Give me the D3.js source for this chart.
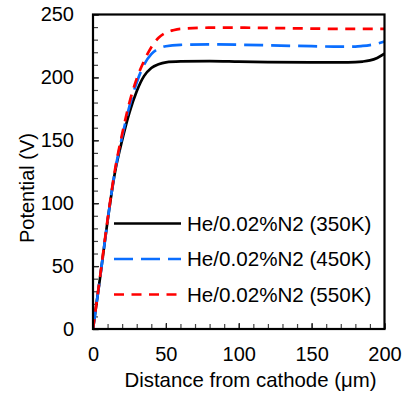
<!DOCTYPE html>
<html>
<head>
<meta charset="utf-8">
<script src="https://cdn.jsdelivr.net/npm/d3@7"></script>
<style>
  html, body { margin: 0; padding: 0; background: #fff; }
  svg text { font-family: "Liberation Sans", Arial, sans-serif; fill: #000; }
</style>
</head>
<body>
<svg id="chart" width="405" height="394"></svg>
<script>
// ---- data ----
const xTicks = [0, 50, 100, 150, 200];
const yTicks = [0, 50, 100, 150, 200, 250];

const x350 = [0, 5, 10, 15, 20, 25, 30, 35, 40, 45, 50, 60, 80, 100, 120, 150, 170, 180, 185, 190, 195, 200];
const v350 = [0, 42, 86, 124, 150, 172, 189, 201, 207.5, 210.5, 212, 212.7, 213, 212.6, 212.2, 212, 212, 212.2, 212.6, 213.5, 215.5, 218.8];

const x450 = [0, 5, 10, 15, 20, 25, 30, 35, 40, 45, 50, 60, 80, 100, 120, 150, 170, 180, 185, 190, 195, 200];
const v450 = [0, 42, 86, 125, 153, 177, 196, 210, 218.5, 222.8, 224.8, 225.9, 226.3, 226, 225.5, 224.8, 224.4, 224.5, 225, 225.7, 226.8, 228.6];

const x550 = [0, 5, 10, 15, 20, 25, 30, 35, 40, 45, 50, 55, 60, 80, 100, 120, 150, 180, 200];
const v550 = [0, 43, 87, 126, 155, 180, 199, 213, 224, 231.5, 235.5, 237.5, 238.6, 239.5, 239.5, 239.3, 238.8, 238.5, 238.5];

const seriesNames = ["He/0.02%N2 (350K)", "He/0.02%N2 (450K)", "He/0.02%N2 (550K)"];
const seriesColors = ["#000000", "#0a6eff", "#ff0000"];
const seriesDash = [null, "19,8", "10,7.5"];

// ---- layout ----
const svg = d3.select("#chart");
const L = 93, R = 384.5, T = 14.5, B = 329;
const x = d3.scaleLinear().domain([0, 200]).range([L, R]);
const y = d3.scaleLinear().domain([0, 250]).range([B, T]);

// minor ticks
const minorX = d3.range(0, 201, 10);
const minorY = d3.range(0, 251, 10);
svg.append("g").attr("transform", `translate(0,${B})`)
  .call(d3.axisBottom(x).tickValues(minorX).tickSize(-5).tickFormat(""))
  .call(g => g.select(".domain").remove())
  .call(g => g.selectAll("line").attr("stroke", "#444").attr("stroke-width", 1.2));
svg.append("g").attr("transform", `translate(${L},0)`)
  .call(d3.axisLeft(y).tickValues(minorY).tickSize(-5).tickFormat(""))
  .call(g => g.select(".domain").remove())
  .call(g => g.selectAll("line").attr("stroke", "#444").attr("stroke-width", 1.2));

// major axes labels
svg.append("g").attr("transform", `translate(0,${B})`)
  .call(d3.axisBottom(x).tickValues(xTicks).tickSize(-6).tickPadding(17.7).tickFormat(d3.format("d")))
  .call(g => g.select(".domain").remove())
  .call(g => g.selectAll("line").attr("stroke", "#222").attr("stroke-width", 1.3))
  .call(g => g.selectAll("text").attr("font-size", 20).attr("font-family", "Liberation Sans, Arial, sans-serif"));
svg.append("g").attr("transform", `translate(${L},0)`)
  .call(d3.axisLeft(y).tickValues(yTicks).tickSize(-6).tickPadding(19).tickFormat(d3.format("d")))
  .call(g => g.select(".domain").remove())
  .call(g => g.selectAll("line").attr("stroke", "#222").attr("stroke-width", 1.3))
  .call(g => g.selectAll("text").attr("font-size", 20).attr("font-family", "Liberation Sans, Arial, sans-serif"));

// series
const allX = [x350, x450, x550];
const allV = [v350, v450, v550];
const line = d3.line().x(d => x(d[0])).y(d => y(d[1])).curve(d3.curveMonotoneX);
svg.append("clipPath").attr("id", "clip")
  .append("rect").attr("x", L).attr("y", T).attr("width", R - L).attr("height", B - T);
const plot = svg.append("g").attr("clip-path", "url(#clip)");
allX.forEach((xs, i) => {
  const pts = xs.map((xv, j) => [xv, allV[i][j]]);
  plot.append("path")
    .attr("d", line(pts))
    .attr("fill", "none")
    .attr("stroke", seriesColors[i])
    .attr("stroke-width", 2.7)
    .attr("stroke-dasharray", seriesDash[i]);
});

// frame
svg.append("rect").attr("x", L).attr("y", T).attr("width", R - L).attr("height", B - T)
  .attr("fill", "none").attr("stroke", "#000").attr("stroke-width", 2.2);

// legend
const legY = [223.5, 259, 294.5];
seriesNames.forEach((name, i) => {
  svg.append("line")
    .attr("x1", 114).attr("x2", 181).attr("y1", legY[i]).attr("y2", legY[i])
    .attr("stroke", seriesColors[i]).attr("stroke-width", 2.7)
    .attr("stroke-dasharray", seriesDash[i]);
  svg.append("text")
    .attr("x", 187).attr("y", legY[i]).attr("dy", "0.35em")
    .attr("font-size", 20.6).text(name);
});

// axis titles
svg.append("text").attr("x", 250.5).attr("y", 387).attr("text-anchor", "middle")
  .attr("font-size", 20.4).text("Distance from cathode (\u03bcm)");
svg.append("text").attr("transform", "translate(34,188) rotate(-90)").attr("text-anchor", "middle")
  .attr("font-size", 20).text("Potential (V)");
</script>
</body>
</html>
